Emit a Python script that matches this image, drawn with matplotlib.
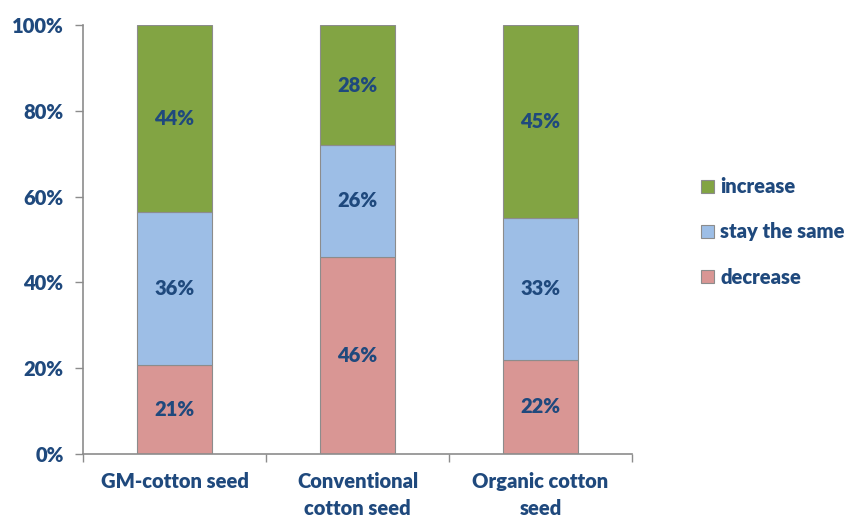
import numpy as np
import matplotlib.pyplot as plt

# Data
categories = ['GM-cotton seed', 'Conventional\ncotton seed', 'Organic cotton\nseed']
decrease = [21, 46, 22]
stay_same = [36, 26, 33]
increase = [44, 28, 45]

txt_color = '#1F497D'
plt.rcParams['font.family'] = ['Lato', 'DejaVu Sans']
plt.rcParams['font.weight'] = 'heavy'
fs = 14.5

# Normalise to 100%
totals = np.array(decrease) + np.array(stay_same) + np.array(increase)
d = np.array(decrease) / totals * 100
s = np.array(stay_same) / totals * 100
inc = np.array(increase) / totals * 100

fig = plt.figure(figsize=(8.51, 5.19), dpi=100)
ax = fig.add_axes([0.0975, 0.1252, 0.6452, 0.8266])

x = np.arange(len(categories))
w = 0.405
edge = '#8C8C8C'
b1 = ax.bar(x, d, w, color='#D99694', edgecolor=edge, linewidth=0.8, label='decrease')
b2 = ax.bar(x, s, w, bottom=d, color='#9DBEE6', edgecolor=edge, linewidth=0.8, label='stay the same')
b3 = ax.bar(x, inc, w, bottom=d + s, color='#82A443', edgecolor=edge, linewidth=0.8, label='increase')

for raw, base, h in [(decrease, np.zeros(3), d), (stay_same, d, s), (increase, d + s, inc)]:
    for i in range(len(categories)):
        ax.text(x[i], base[i] + h[i] / 2, '%d%%' % raw[i], ha='center', va='center',
                color=txt_color, fontsize=fs, fontweight='heavy')

ax.set_xlim(-0.5, 2.5)
ax.set_ylim(0, 100)
ax.set_yticks([0, 20, 40, 60, 80, 100])
ax.set_yticklabels(['0%', '20%', '40%', '60%', '80%', '100%'])
ax.set_xticks(x)
ax.set_xticklabels(categories, linespacing=1.5)
ax.set_xticks([-0.5, 0.5, 1.5, 2.5], minor=True)
ax.tick_params(axis='x', which='major', length=0, pad=13, labelsize=fs, labelcolor=txt_color)
ax.tick_params(axis='x', which='minor', length=6, color='#8C8C8C', width=1)
ax.tick_params(axis='y', length=6, color='#8C8C8C', width=1, labelsize=fs, labelcolor=txt_color, pad=8)

for sp in ['top', 'right']:
    ax.spines[sp].set_visible(False)
for sp in ['left', 'bottom']:
    ax.spines[sp].set_color('#8C8C8C')
    ax.spines[sp].set_linewidth(1.2)

handles = [b3, b2, b1]
leg = fig.legend(handles, ['increase', 'stay the same', 'decrease'], loc='center left',
                 bbox_to_anchor=(0.824, 0.553), frameon=False, fontsize=fs,
                 borderaxespad=0, borderpad=0,
                 handlelength=0.65, handleheight=0.65, handletextpad=0.3, labelspacing=1.3)
for t in leg.get_texts():
    t.set_color(txt_color)

fig.savefig('out.png', dpi=100)
